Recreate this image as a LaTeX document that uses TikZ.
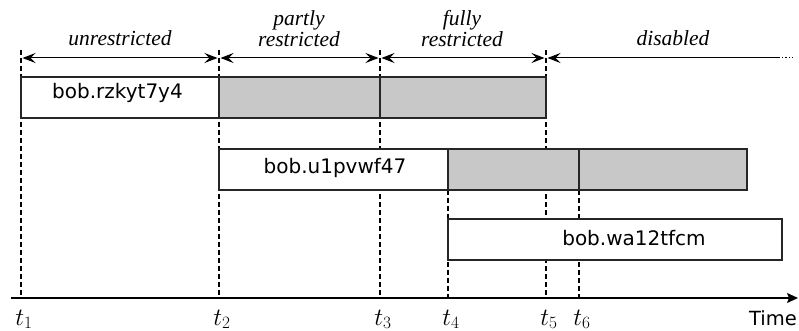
\documentclass[tikz,border=0pt]{standalone}
\usepackage{fontspec}
\setmainfont{Liberation Serif}
\setsansfont{DejaVu Sans}
\usetikzlibrary{arrows.meta}

\definecolor{expired}{RGB}{200,200,200}

\tikzset{
  phase/.style={font=\fontsize{21.5}{19.5}\selectfont\itshape, align=center, inner sep=0pt, anchor=base},
  span/.style={line width=1pt, {Stealth[length=13pt,width=10pt,inset=5pt]}-{Stealth[length=13pt,width=10pt,inset=5pt]}, shorten <=1.5pt, shorten >=1.5pt},
  guide/.style={line width=1.1pt, dash pattern=on 5pt off 3pt},
  keybox/.style={line width=1.1pt, draw=black!85},
  keyname/.style={font=\sffamily\fontsize{20}{24}\selectfont, inner sep=0pt, anchor=base},
  tick/.style={font=\fontsize{26}{30}\selectfont, inner sep=0pt, anchor=base},
  axis/.style={line width=1.3pt, -{Stealth[length=11pt,width=10pt,inset=2pt]}}
}

\begin{document}
\begin{tikzpicture}[x=1pt, y=-1pt]
\useasboundingbox (0,0) rectangle (799,331);

% time instants on the axis and at the top of the guides
\foreach \n/\x/\y in {1/21/50, 2/219/50, 3/380/50, 4/448/190, 5/546/50, 6/579/190} {
  \coordinate (top\n) at (\x,\y);
  \coordinate (bot\n) at (\x,298);
  \coordinate (arr\n) at (\x,58);
}

% dashed guide lines
\foreach \n in {1,...,6} \draw[guide] (top\n) -- (bot\n);

% key bob.rzkyt7y4
\draw[keybox, fill=white] (21,77) rectangle (219,118);
\draw[keybox, fill=expired] (219,77) rectangle (546,118);
\draw[keybox] (380,77) -- (380,118);
\node[keyname] (k1) at (117.5,98.5) {bob.rzkyt7y4};

% key bob.u1pvwf47
\draw[keybox, fill=white] (219,149) rectangle (448,190);
\draw[keybox, fill=expired] (448,149) rectangle (747,190);
\draw[keybox] (579,149) -- (579,190);
\node[keyname] (k2) at (335,173.5) {bob.u1pvwf47};

% key bob.wa12tfcm
\draw[keybox, fill=white] (448,219) rectangle (782,260);
\node[keyname] (k3) at (634,245) {bob.wa12tfcm};

% phases
\draw[span] (arr1) -- (arr2);
\draw[span] (arr2) -- (arr3);
\draw[span] (arr3) -- (arr5);
\coordinate (dend) at (780,58);
\coordinate (dots) at (793,58);
\draw[line width=1pt, {Stealth[length=13pt,width=10pt,inset=5pt]}-, shorten <=1.5pt] (arr5) -- (dend);
\draw[line width=1pt, dash pattern=on 1.2pt off 2.2pt] ([xshift=2pt]dend) -- (dots);

\node[phase] (p1) at (120,45.5) {unrestricted};
\node[phase] (p2) at (299,46.5) {partly\\restricted};
\node[phase] (p3) at (462,46.5) {fully\\restricted};
\node[phase] (p4) at (673,45.5) {disabled};

% time axis
\coordinate (ax0) at (11,298);
\coordinate (ax1) at (798,298);
\draw[axis] (ax0) -- (ax1);

\foreach \n/\x in {1/21, 2/219, 3/380, 4/448, 5/546, 6/579}
  \node[tick] (t\n) at (\x+3,325) {$t_{\n}$};
\node[font=\sffamily\fontsize{19.5}{24}\selectfont, inner sep=0pt, anchor=base] (time) at (773,325) {Time};
\end{tikzpicture}
\end{document}
